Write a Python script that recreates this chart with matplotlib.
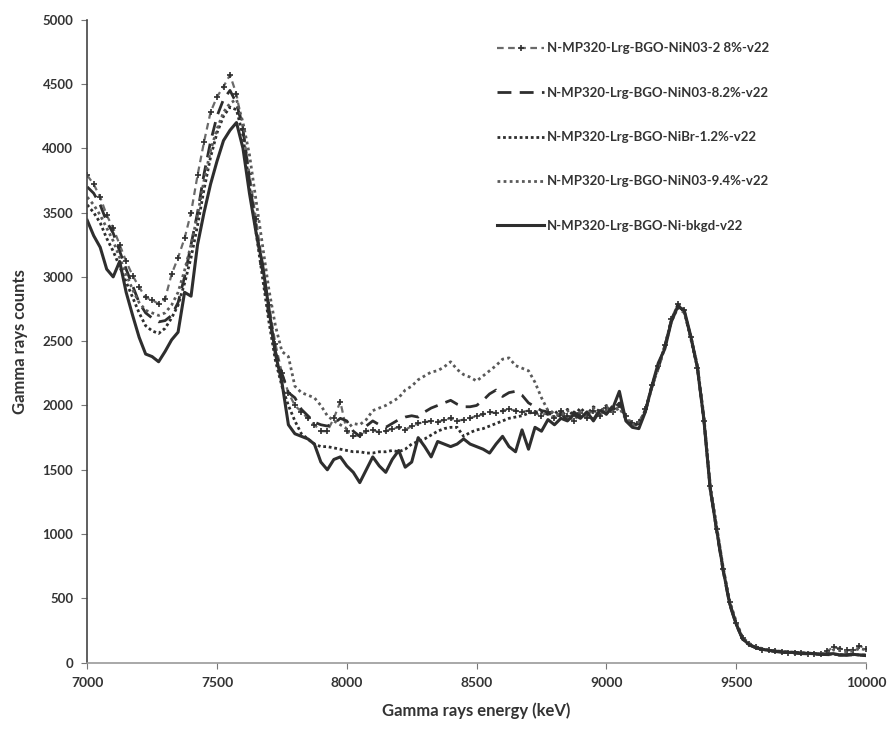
import matplotlib
matplotlib.use("Agg")
import matplotlib.pyplot as plt

# Energy grid (keV)
energy = list(range(7000, 10025, 25))

labels = [
    "N-MP320-Lrg-BGO-NiN03-2 8%-v22",
    "N-MP320-Lrg-BGO-NiN03-8.2%-v22",
    "N-MP320-Lrg-BGO-NiBr-1.2%-v22",
    "N-MP320-Lrg-BGO-NiN03-9.4%-v22",
    "N-MP320-Lrg-BGO-Ni-bkgd-v22",
]

nino3_2_8 = [
    3790, 3720, 3620, 3480, 3380, 3250, 3120, 3010, 2920, 2840,
    2820, 2790, 2830, 3020, 3150, 3300, 3500, 3790, 4050, 4280,
    4400, 4480, 4570, 4420, 4150, 3800, 3450, 3100, 2780, 2480,
    2250, 2100, 2000, 1950, 1900, 1850, 1800, 1800, 1900, 2030,
    1800, 1760, 1770, 1800, 1810, 1790, 1800, 1820, 1830, 1810,
    1840, 1860, 1870, 1880, 1870, 1890, 1900, 1880, 1890, 1900,
    1920, 1930, 1950, 1940, 1960, 1970, 1960, 1950, 1960, 1940,
    1920, 1950, 1900, 1960, 1920, 1880, 1940, 1900, 1960, 1920,
    1980, 1950, 2000, 1920, 1860, 1870, 1970, 2160, 2310, 2470,
    2670, 2790, 2740, 2530, 2290, 1880, 1370, 1040, 730, 470,
    310, 190, 145, 120, 100, 95, 88, 82, 78, 75,
    72, 70, 68, 66, 90, 120, 110, 95, 100, 130, 110,
]

nino3_8_2 = [
    3700, 3650, 3560, 3430, 3340, 3200, 3060, 2930, 2800, 2720,
    2680, 2650, 2660, 2700, 2800, 3000, 3250, 3500, 3800, 4050,
    4250, 4380, 4450, 4350, 4150, 3750, 3380, 3050, 2700, 2420,
    2250, 2100, 2060, 1970, 1920, 1870, 1850, 1840, 1860, 1900,
    1880, 1800, 1760, 1840, 1880, 1850, 1830, 1860, 1890, 1910,
    1920, 1910, 1950, 1980, 2000, 2020, 2040, 2010, 1990, 1990,
    2000, 2040, 2090, 2120, 2070, 2100, 2110, 2080, 2020, 1990,
    1960, 1950, 1900, 1940, 1880, 1950, 1910, 1930, 1890, 1970,
    1930, 2000, 2030, 1900, 1850, 1860, 1960, 2140, 2290, 2460,
    2660, 2780, 2730, 2530, 2310, 1910, 1360, 1020, 710, 450,
    295, 180, 138, 115, 102, 92, 86, 80, 76, 74,
    70, 68, 66, 64, 62, 60, 58, 57, 60, 58, 60,
]

nibr_1_2 = [
    3560, 3500, 3420, 3300, 3200, 3080, 2960, 2840, 2720, 2620,
    2580, 2560, 2600, 2680, 2780, 2950, 3150, 3400, 3680, 3930,
    4120, 4250, 4320, 4300, 4100, 3700, 3350, 3000, 2650, 2350,
    2150, 2000, 1880, 1780, 1740, 1700, 1680, 1680, 1670, 1660,
    1650, 1640, 1640, 1630, 1630, 1640, 1640, 1650, 1640, 1660,
    1700, 1720, 1740, 1770, 1800, 1820, 1830, 1830, 1760, 1790,
    1810, 1820, 1840, 1860, 1880, 1900, 1910, 1920, 1940, 1950,
    1950, 1930, 1960, 1910, 1970, 1920, 1980, 1930, 1990, 1950,
    2000, 1960, 2020, 1890, 1840, 1860, 1960, 2150, 2300, 2460,
    2660, 2780, 2730, 2520, 2300, 1900, 1350, 1030, 720, 460,
    300, 185, 140, 118, 105, 95, 90, 85, 80, 78,
    75, 72, 70, 68, 66, 64, 62, 60, 62, 60, 58,
]

nino3_9_4 = [
    3620, 3560, 3480, 3380, 3280, 3150, 3020, 2900, 2800, 2740,
    2720, 2700, 2720, 2780, 2880, 3050, 3250, 3480, 3750, 3980,
    4150, 4280, 4350, 4380, 4200, 3950, 3600, 3250, 2900, 2620,
    2420, 2380, 2150, 2100, 2080, 2060, 2000, 1920, 1880, 1850,
    1820, 1860, 1850, 1890, 1960, 1980, 2000, 2030, 2060, 2120,
    2150, 2200, 2230, 2260, 2270, 2300, 2340, 2280, 2240, 2220,
    2190, 2230, 2270, 2310, 2360, 2370, 2310, 2290, 2270, 2180,
    2060, 1960, 1940, 1920, 1960, 1900, 1950, 1920, 1980, 1940,
    1990, 1950, 1980, 1900, 1850, 1870, 1950, 2140, 2290, 2450,
    2650, 2760, 2720, 2540, 2320, 1930, 1390, 1060, 740, 480,
    320, 195, 150, 125, 110, 100, 92, 88, 84, 80,
    78, 75, 72, 70, 72, 100, 95, 85, 90, 110, 100,
]

bkgd = [
    3440, 3320, 3230, 3060, 3000, 3120, 2880, 2700, 2530, 2400,
    2380, 2340, 2420, 2510, 2570, 2880, 2850, 3250, 3500, 3720,
    3900, 4060, 4140, 4200, 4000, 3650, 3350, 3100, 2750, 2400,
    2180, 1850, 1780, 1760, 1740, 1700, 1560, 1500, 1580, 1600,
    1530, 1480, 1400, 1500, 1600, 1530, 1480, 1580, 1650, 1520,
    1560, 1750, 1680, 1600, 1720, 1700, 1680, 1700, 1740, 1700,
    1680, 1660, 1630, 1700, 1760, 1680, 1640, 1810, 1660, 1830,
    1800, 1890, 1850, 1900, 1880, 1930, 1900, 1950, 1880, 1960,
    1940, 1980, 2110, 1880, 1830, 1820, 1950, 2150, 2330, 2440,
    2650, 2770, 2740, 2540, 2300, 1900, 1350, 1030, 720, 460,
    300, 185, 140, 118, 105, 95, 90, 85, 80, 80,
    75, 72, 70, 65, 68, 70, 60, 62, 65, 60, 55,
]

x_ticks = [7000, 7500, 8000, 8500, 9000, 9500, 10000]
y_ticks = [0, 500, 1000, 1500, 2000, 2500, 3000, 3500, 4000, 4500, 5000]

plt.rcParams['font.family'] = ['Lato', 'DejaVu Sans']

fig = plt.figure(figsize=(8.9, 7.29), dpi=100)
ax = fig.add_axes([0.098, 0.091, 0.875, 0.882])

dark = '#2e2e2e'
ax.plot(energy, nino3_2_8, color='#6a6a6a', lw=1.6, ls=(0, (3, 2)),
        marker='+', ms=4, mew=1.2, mec=dark, label=labels[0])
ax.plot(energy, nino3_8_2, color=dark, lw=2.0, ls=(0, (5, 3)), label=labels[1])
ax.plot(energy, nibr_1_2, color=dark, lw=2.0, ls=(0, (1, 1)), label=labels[2])
ax.plot(energy, nino3_9_4, color='#5a5a5a', lw=2.0, ls=(0, (1, 1.2)), label=labels[3])
ax.plot(energy, bkgd, color=dark, lw=2.2, ls='-', label=labels[4])

ax.set_xlim(7000, 10000)
ax.set_ylim(0, 5000)
ax.set_xticks(x_ticks)
ax.set_yticks(y_ticks)
ax.set_xticklabels([str(v) for v in x_ticks], fontsize=10, fontweight='bold', color='#333333')
ax.set_yticklabels([str(v) for v in y_ticks], fontsize=9.5, fontweight='bold', color='#333333')

for s in ['top', 'right']:
    ax.spines[s].set_visible(False)
ax.spines['left'].set_color('#444444')
ax.spines['bottom'].set_color('#999999')
ax.spines['left'].set_linewidth(1.2)
ax.spines['bottom'].set_linewidth(1.2)
ax.tick_params(axis='both', direction='out', length=4, color='#777777', pad=6)

ax.set_xlabel('Gamma rays energy (keV)', fontsize=12, fontweight='bold', color='#333333', labelpad=10)
ax.set_ylabel('Gamma rays counts', fontsize=12, fontweight='bold', color='#333333', labelpad=10)

leg = ax.legend(loc='upper left', bbox_to_anchor=(0.545, 0.958), bbox_transform=fig.transFigure,
                frameon=False, fontsize=9.5, handlelength=3.6, handletextpad=0.2,
                labelspacing=2.45)
for t in leg.get_texts():
    t.set_color('#333333')
    t.set_fontweight('bold')

fig.savefig('out.png', dpi=100)
